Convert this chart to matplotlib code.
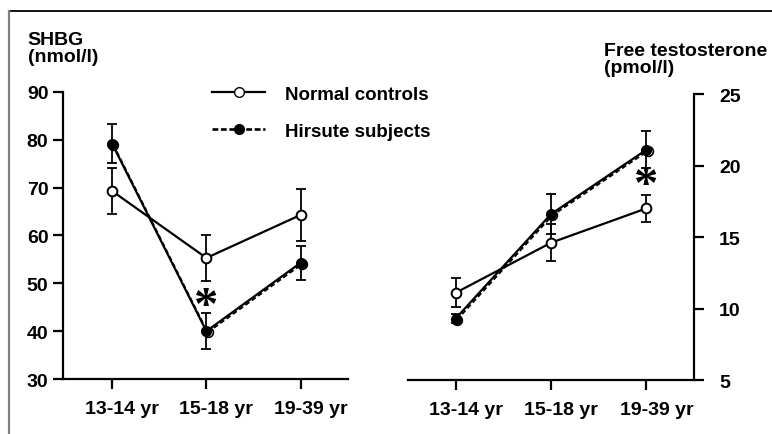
import matplotlib
matplotlib.use("Agg")
import matplotlib.pyplot as plt
from matplotlib.lines import Line2D
from matplotlib.transforms import offset_copy, ScaledTranslation

plt.rcParams['font.family'] = ['Liberation Sans', 'DejaVu Sans']
plt.rcParams['font.weight'] = 'bold'

groups = ["13-14 yr", "15-18 yr", "19-39 yr"]
x = [0, 1, 2]

# SHBG (nmol/l)
shbg_normal = [69.3, 55.3, 64.3]
shbg_normal_err = [4.9, 4.8, 5.4]
shbg_hirsute = [79.2, 40.0, 54.3]
shbg_hirsute_err = [4.0, 3.8, 3.6]

# Free testosterone (pmol/l)
ft_normal = [11.1, 14.6, 17.0]
ft_normal_err = [1.0, 1.3, 0.95]
ft_hirsute = [9.3, 16.6, 21.1]
ft_hirsute_err = [0.3, 1.4, 1.3]

LW = 1.6
MS = 7
FS = 14


def draw_panel(ax, yn, en, yh, eh):
    ax.errorbar(x, yn, yerr=en, fmt='none', ecolor='black', elinewidth=1.3,
                capsize=3.5, capthick=1.3, zorder=2)
    ax.errorbar(x, yh, yerr=eh, fmt='none', ecolor='black', elinewidth=1.3,
                capsize=3.5, capthick=1.3, zorder=2)
    ax.plot(x, yn, '-', color='black', lw=LW, zorder=3)
    ax.plot(x, yh, '-', color='black', lw=LW, zorder=3)
    # dashed companion line sitting just beside the solid one
    shift = offset_copy(ax.transData, fig=ax.figure, x=0.9, y=-0.9, units='points')
    ax.plot(x, yh, '--', color='black', lw=1.4, dashes=(2.5, 1.5), transform=shift, zorder=3)
    ax.plot(x, yh, 'o', ms=MS, mfc='white', mec='black', mew=1.2, transform=shift, zorder=4)
    ax.plot(x, yh, 'o', ms=MS, mfc='black', mec='black', zorder=5)
    ax.plot(x, yn, 'o', ms=MS, mfc='white', mec='black', mew=1.4, zorder=6)

    ax.set_xticks(x)
    ax.set_xticklabels(groups, fontsize=FS, fontweight='bold')
    ax.tick_params(axis='both', width=1.6, length=7, labelsize=FS)
    ax.tick_params(axis='x', pad=8)
    # labels in the original sit a little right of their ticks
    nudge = ScaledTranslation(10 / 100, 0, ax.figure.dpi_scale_trans)
    for lab in ax.get_xticklabels():
        lab.set_transform(lab.get_transform() + nudge)
    ax.spines['top'].set_visible(False)
    for s in ax.spines.values():
        s.set_linewidth(1.6)


fig = plt.figure(figsize=(7.72, 4.35), dpi=100)

ax1 = fig.add_axes([0.0816, 0.1264, 0.369, 0.660])
draw_panel(ax1, shbg_normal, shbg_normal_err, shbg_hirsute, shbg_hirsute_err)
ax1.spines['right'].set_visible(False)
ax1.set_xlim(-0.52, 2.5)
ax1.set_ylim(30, 90)
ax1.set_yticks([30, 40, 50, 60, 70, 80, 90])
ax1.set_yticklabels([str(v) for v in [30, 40, 50, 60, 70, 80, 90]], fontweight='bold')
ax1.text(1, 42.5, '*', fontsize=35, family='Liberation Serif', fontweight='bold',
         ha='center', va='baseline')

ax2 = fig.add_axes([0.5285, 0.1241, 0.3705, 0.6575])
draw_panel(ax2, ft_normal, ft_normal_err, ft_hirsute, ft_hirsute_err)
ax2.spines['left'].set_visible(False)
ax2.yaxis.tick_right()
ax2.set_xlim(-0.5, 2.5)
ax2.set_ylim(5, 25)
ax2.set_yticks([5, 10, 15, 20, 25])
ax2.set_yticklabels([str(v) for v in [5, 10, 15, 20, 25]], fontweight='bold')
ax2.tick_params(axis='y', pad=11)
ax2.text(2, 17.7, '*', fontsize=35, family='Liberation Serif', fontweight='bold',
         ha='center', va='baseline')

fig.text(0.036, 0.927, "SHBG\n(nmol/l)", fontsize=FS, fontweight='bold',
         va='top', ha='left', linespacing=1.05)
fig.text(0.782, 0.902, "Free testosterone\n(pmol/l)", fontsize=FS, fontweight='bold',
         va='top', ha='left', linespacing=1.05)

h_norm = Line2D([], [], color='black', lw=LW, marker='o', ms=MS, mfc='white', mec='black')
h_hir = Line2D([], [], color='black', lw=1.9, ls='--', dashes=(2.2, 1.0),
               marker='o', ms=MS, mfc='black', mec='black')
fig.legend([h_norm, h_hir], ["Normal controls", "Hirsute subjects"],
           loc='upper left', bbox_to_anchor=(0.2526, 0.839), frameon=False,
           handlelength=2.85, handletextpad=1.05, labelspacing=1.05,
           prop={'weight': 'bold', 'size': 13.5})

# page border: top black rule and grey left rule
fig.add_artist(Line2D([0.0117, 1.0], [0.972, 0.972], color='black', lw=1.3,
                      transform=fig.transFigure))
fig.add_artist(Line2D([0.0117, 0.0117], [0.0, 0.972], color='#808080', lw=1.6,
                      transform=fig.transFigure))

fig.savefig("out.png", dpi=100)
